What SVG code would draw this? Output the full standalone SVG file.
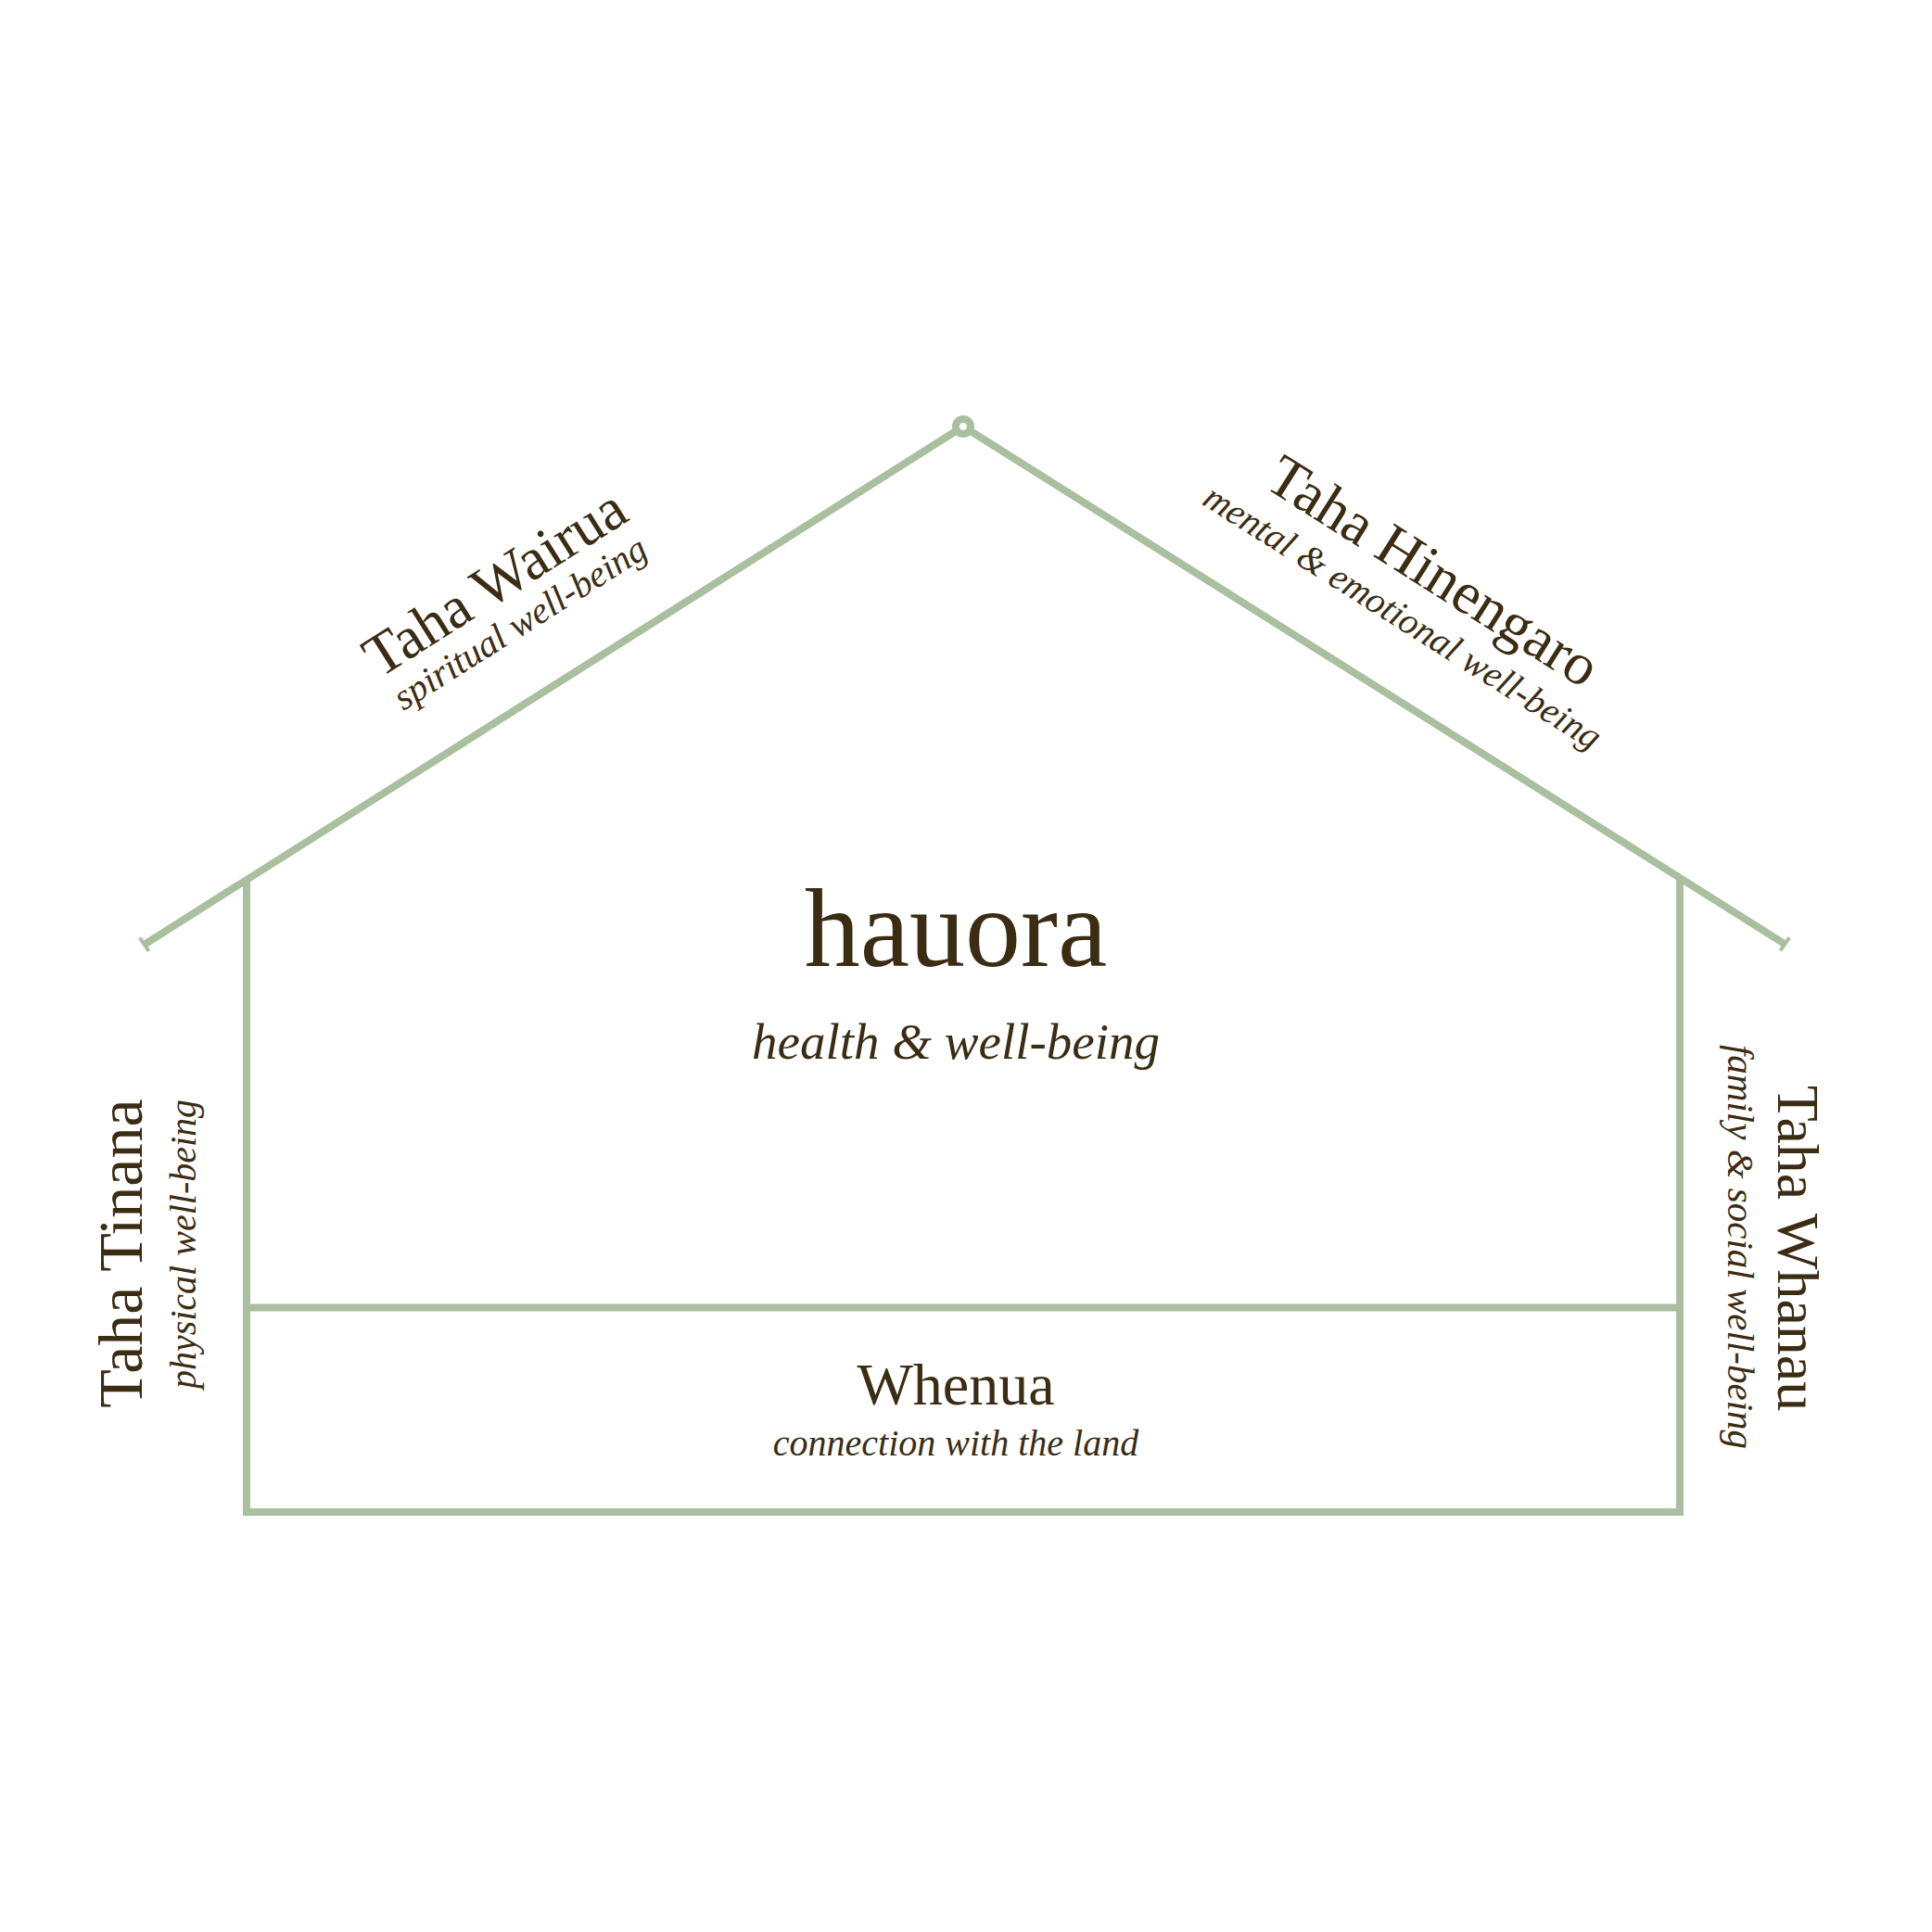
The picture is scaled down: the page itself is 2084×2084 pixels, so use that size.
<svg xmlns="http://www.w3.org/2000/svg" width="2084" height="2084" viewBox="0 0 2084 2084">
<style>
.ln{fill:none;stroke:#aabf9f;stroke-width:8;stroke-linejoin:miter;stroke-linecap:butt}
.tick{fill:none;stroke:#aabf9f;stroke-width:4}
.t{font-family:"Liberation Serif","DejaVu Serif",serif;fill:#3b2d14;text-anchor:middle}
.i{font-style:italic}
</style>
<rect width="2084" height="2084" fill="#ffffff"/>
<g id="connectors">
<polyline class="ln" points="155.7,1018.8 1039,460 1925.3,1018.3"/>
<line class="tick" x1="150.9" y1="1011.6" x2="160.5" y2="1026"/>
<line class="tick" x1="1920.4" y1="1025.3" x2="1930.2" y2="1011.3"/>
<path class="ln" d="M266,948.5 V1631 H1812 V948.5"/>
<line class="ln" x1="266" y1="1410.5" x2="1812" y2="1410.5"/>
<circle cx="1039" cy="460" r="8" fill="#ffffff" stroke="#aabf9f" stroke-width="8"/>
</g>
<g id="hauora">
<text class="t" x="1031" y="1042" font-size="120">hauora</text>
<text class="t i" x="1031" y="1142" font-size="55">health &amp; well-being</text>
</g>
<g id="whenua">
<text class="t" x="1031" y="1515" font-size="64">Whenua</text>
<text class="t i" x="1031" y="1570" font-size="40">connection with the land</text>
</g>
<g id="taha-wairua">
<text class="t" font-size="64" transform="translate(545,646) rotate(-32.3)">Taha Wairua</text>
<text class="t i" font-size="40" transform="translate(568,683) rotate(-32.3)">spiritual well-being</text>
</g>
<g id="taha-hinengaro">
<text class="t" font-size="64" transform="translate(1535,634) rotate(32.3)">Taha Hinengaro</text>
<text class="t i" font-size="40" transform="translate(1506,676.5) rotate(32.3)">mental &amp; emotional well-being</text>
</g>
<g id="taha-tinana">
<text class="t" font-size="68" transform="translate(153,1352) rotate(-90)">Taha Tinana</text>
<text class="t i" font-size="40" transform="translate(211,1342) rotate(-90)">physical well-being</text>
</g>
<g id="taha-whanau">
<text class="t" font-size="64" transform="translate(1918,1346.5) rotate(90)">Taha Whanau</text>
<text class="t i" font-size="41" transform="translate(1864,1345) rotate(90)">family &amp; social well-being</text>
</g>
</svg>
